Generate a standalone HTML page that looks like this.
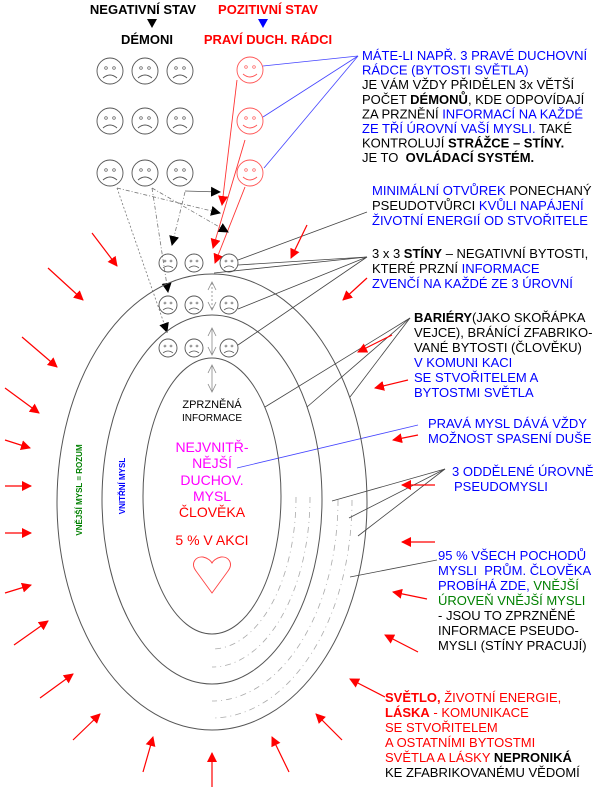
<!DOCTYPE html>
<html><head><meta charset="utf-8"><style>
html,body{margin:0;padding:0;background:#fff;}
svg{display:block;font-family:"Liberation Sans",Arial,sans-serif;}
.t{font-size:13px;}
.b{font-weight:bold;}
.bl{fill:#0000ff;}
.r{fill:#ff0000;}
.g{fill:#008000;}
.k{fill:#000;}
</style></head><body>
<svg width="600" height="793" viewBox="0 0 600 793" xmlns="http://www.w3.org/2000/svg">
<defs>
<marker id="ra" markerWidth="10" markerHeight="10" refX="9" refY="5" orient="auto" markerUnits="userSpaceOnUse"><path d="M0,0 L10,5 L0,10 z" fill="#ff0000"/></marker>
<marker id="ka" markerWidth="10" markerHeight="10" refX="9" refY="5" orient="auto" markerUnits="userSpaceOnUse"><path d="M0,0 L10,5 L0,10 z" fill="#000"/></marker>
<g id="sad"><circle r="13" fill="none" stroke="#555" stroke-width="0.9"/><circle cx="-4" cy="-3" r="1.3" fill="none" stroke="#555" stroke-width="0.7"/><circle cx="4" cy="-3" r="1.3" fill="none" stroke="#555" stroke-width="0.7"/><path d="M-7,7 Q0,1 7,7" fill="none" stroke="#555" stroke-width="0.9"/></g>
<g id="sads"><circle r="9" fill="none" stroke="#555" stroke-width="0.9"/><circle cx="-3" cy="-2" r="1" fill="none" stroke="#555" stroke-width="0.6"/><circle cx="3" cy="-2" r="1" fill="none" stroke="#555" stroke-width="0.6"/><path d="M-5,5 Q0,1 5,5" fill="none" stroke="#555" stroke-width="0.8"/></g>
<g id="happy"><circle r="13" fill="none" stroke="#ff5555" stroke-width="0.9"/><circle cx="-4" cy="-3" r="1.3" fill="none" stroke="#ff5555" stroke-width="0.7"/><circle cx="4" cy="-3" r="1.3" fill="none" stroke="#ff5555" stroke-width="0.7"/><path d="M-7,4 Q0,10 7,4" fill="none" stroke="#ff5555" stroke-width="0.9"/></g>
</defs>

<text x="143" y="14" text-anchor="middle" class="t b k">NEGATIVNÍ STAV</text>
<text x="268" y="14" text-anchor="middle" class="t b r">POZITIVNÍ STAV</text>
<path d="M147,19 L157,19 L152,28 z" fill="#000"/>
<path d="M258,19 L268,19 L263,28 z" fill="#0000ff"/>
<text x="147" y="44" text-anchor="middle" class="t b k">DÉMONI</text>
<text x="268" y="44" text-anchor="middle" class="t b r">PRAVÍ DUCH. RÁDCI</text>

<use href="#sad" x="110" y="71"/><use href="#sad" x="145" y="71"/><use href="#sad" x="180" y="71"/>
<use href="#sad" x="110" y="121"/><use href="#sad" x="145" y="121"/><use href="#sad" x="180" y="121"/>
<use href="#sad" x="110" y="173"/><use href="#sad" x="145" y="173"/><use href="#sad" x="180" y="173"/>
<use href="#happy" x="250" y="70"/><use href="#happy" x="250" y="121"/><use href="#happy" x="250" y="173"/>

<g stroke="#4444ff" stroke-width="0.8" fill="none">
<line x1="358" y1="56" x2="263" y2="66"/>
<line x1="358" y1="56" x2="263" y2="117"/>
<line x1="358" y1="56" x2="264" y2="168"/>
<line x1="418" y1="425" x2="237" y2="468"/>
</g>

<g stroke="#ff3333" stroke-width="0.9" fill="none">
<line x1="237" y1="80" x2="222" y2="205" marker-end="url(#ra)"/>
<line x1="245" y1="140" x2="213" y2="248" marker-end="url(#ra)"/>
<line x1="245" y1="187" x2="215" y2="263" marker-end="url(#ra)"/>
</g>

<g stroke="#777" stroke-width="0.8" fill="none" stroke-dasharray="4,2,1,2">
<line x1="185" y1="191" x2="220" y2="192" marker-end="url(#ka)" stroke-dasharray="none" stroke="#555"/>
<line x1="117" y1="188" x2="220" y2="213" marker-end="url(#ka)"/>
<line x1="152" y1="188" x2="228" y2="232" marker-end="url(#ka)"/>
<line x1="185" y1="192" x2="172" y2="245" marker-end="url(#ka)"/>
<line x1="152" y1="188" x2="168" y2="292" marker-end="url(#ka)"/>
<line x1="117" y1="188" x2="167" y2="332" marker-end="url(#ka)" stroke-dasharray="2,2"/>
</g>

<g fill="none" stroke="#555" stroke-width="1">
<ellipse cx="212" cy="502" rx="155" ry="228"/>
<ellipse cx="212" cy="499.5" rx="110" ry="184.5"/>
<ellipse cx="212" cy="496" rx="69" ry="138"/>
</g>
<g fill="none" stroke="#aaa" stroke-width="0.8" stroke-dasharray="6,4,1,4">
<path d="M296,497 A84,152 0 0 1 212,649"/>
<path d="M310,497 A98,170 0 0 1 212,667"/>
<path d="M338,500 A126,201 0 0 1 212,701"/>
<path d="M352,500 A140,218 0 0 1 212,718"/>
</g>

<use href="#sads" x="168" y="263"/><use href="#sads" x="194" y="263"/><use href="#sads" x="229" y="263"/>
<use href="#sads" x="168" y="305"/><use href="#sads" x="194" y="305"/><use href="#sads" x="229" y="305"/>
<use href="#sads" x="168" y="348"/><use href="#sads" x="194" y="348"/><use href="#sads" x="229" y="348"/>

<g stroke="#888" stroke-width="0.8" fill="none">
<line x1="212" y1="283" x2="212" y2="309" stroke-dasharray="2,2"/>
<path d="M208,290 L212,282 L216,290 M208,302 L212,310 L216,302"/>
<line x1="212" y1="328" x2="212" y2="355"/>
<path d="M208,336 L212,328 L216,336 M208,347 L212,355 L216,347"/>
<line x1="212" y1="365" x2="212" y2="392"/>
<path d="M208,373 L212,365 L216,373 M208,384 L212,392 L216,384"/>
</g>

<g stroke="#444" stroke-width="0.8" fill="none">
<line x1="367" y1="212" x2="238" y2="260"/>
<line x1="367" y1="257" x2="238" y2="265"/>
<line x1="367" y1="257" x2="214" y2="273"/>
<line x1="367" y1="257" x2="238" y2="309"/>
<line x1="367" y1="257" x2="238" y2="345"/>
<line x1="410" y1="318" x2="265" y2="407"/>
<line x1="410" y1="318" x2="307" y2="407"/>
<line x1="410" y1="318" x2="350" y2="397"/>
<line x1="445" y1="469" x2="332" y2="501"/>
<line x1="445" y1="469" x2="349" y2="518"/>
<line x1="445" y1="469" x2="358" y2="536"/>
<line x1="437" y1="560" x2="350" y2="577"/>
</g>

<g stroke="#ff0000" stroke-width="1.2" fill="none" marker-end="url(#ra)">
<line x1="92" y1="233" x2="117" y2="266"/>
<line x1="48" y1="268" x2="83" y2="300"/>
<line x1="22" y1="337" x2="57" y2="367"/>
<line x1="5" y1="388" x2="39" y2="413"/>
<line x1="5" y1="440" x2="30" y2="448"/>
<line x1="5" y1="486" x2="31" y2="486"/>
<line x1="5" y1="533" x2="31" y2="533"/>
<line x1="5" y1="593" x2="31" y2="585"/>
<line x1="14" y1="645" x2="48" y2="621"/>
<line x1="40" y1="698" x2="73" y2="674"/>
<line x1="73" y1="740" x2="100" y2="714"/>
<line x1="143" y1="772" x2="153" y2="737"/>
<line x1="212" y1="787" x2="212" y2="753"/>
<line x1="289" y1="772" x2="272" y2="737"/>
<line x1="342" y1="740" x2="316" y2="714"/>
<line x1="385" y1="697" x2="350" y2="679"/>
<line x1="418" y1="652" x2="385" y2="635"/>
<line x1="427" y1="599" x2="393" y2="592"/>
<line x1="435" y1="542" x2="402" y2="542"/>
<line x1="435" y1="485" x2="402" y2="485"/>
<line x1="418" y1="435" x2="393" y2="440"/>
<line x1="408" y1="380" x2="375" y2="388"/>
<line x1="392" y1="335" x2="358" y2="352"/>
<line x1="367" y1="278" x2="343" y2="300"/>
<line x1="307" y1="225" x2="291" y2="258"/>
</g>

<text x="212" y="408" text-anchor="middle" font-size="11" class="k">ZPRZNĚNÁ</text>
<text x="212" y="421" text-anchor="middle" font-size="10" class="k">INFORMACE</text>
<g font-size="14" text-anchor="middle">
<text x="212" y="452" fill="#ff00ff">NEJVNITŘ-</text>
<text x="212" y="468" fill="#ff00ff">NĚJŠÍ</text>
<text x="212" y="485" fill="#ff00ff">DUCHOV.</text>
<text x="212" y="501" fill="#ff00ff">MYSL</text>
<text x="212" y="517" class="r">ČLOVĚKA</text>
<text x="212" y="545" class="r">5 % V AKCI</text>
</g>
<path d="M212,593 L196,571 C190,563 196,556 203,557 C208,558 211,561 212,563 C213,561 216,558 221,557 C228,556 234,563 228,571 Z" fill="none" stroke="#ff4444" stroke-width="0.9"/>
<text transform="translate(82,490) rotate(-90)" text-anchor="middle" font-size="8" font-weight="bold" class="g">VNĚJŠÍ MYSL = ROZUM</text>
<text transform="translate(125,486) rotate(-90)" text-anchor="middle" font-size="8" font-weight="bold" class="bl">VNITŘNÍ  MYSL</text>

<g class="t">
<text x="362" y="60" class="bl">MÁTE-LI NAPŘ. 3 PRAVÉ DUCHOVNÍ</text>
<text x="362" y="74.6" class="bl">RÁDCE (BYTOSTI SVĚTLA)</text>
<text x="362" y="89.2" class="k">JE VÁM VŽDY PŘIDĚLEN 3x VĚTŠÍ</text>
<text x="362" y="103.8" class="k">POČET <tspan class="b">DÉMONŮ</tspan>, KDE ODPOVÍDAJÍ</text>
<text x="362" y="118.4" class="k">ZA PRZNĚNÍ <tspan class="bl">INFORMACÍ NA KAŽDÉ</tspan></text>
<text x="362" y="133" class="bl">ZE TŘÍ ÚROVNÍ VAŠÍ MYSLI. <tspan class="k">TAKÉ</tspan></text>
<text x="362" y="147.6" class="k">KONTROLUJÍ <tspan class="b">STRÁŽCE – STÍNY.</tspan></text>
<text x="362" y="162.2" class="k" xml:space="preserve">JE TO  <tspan class="b">OVLÁDACÍ SYSTÉM.</tspan></text>

<text x="372" y="195" class="bl">MINIMÁLNÍ OTVŮREK <tspan class="k">PONECHANÝ</tspan></text>
<text x="372" y="210" class="k">PSEUDOTVŮRCI <tspan class="bl">KVŮLI NAPÁJENÍ</tspan></text>
<text x="372" y="225" class="bl">ŽIVOTNÍ ENERGIÍ OD STVOŘITELE</text>

<text x="372" y="258" class="k">3 x 3 <tspan class="b">STÍNY</tspan> – NEGATIVNÍ BYTOSTI,</text>
<text x="372" y="273" class="k">KTERÉ PRZNÍ <tspan class="bl">INFORMACE</tspan></text>
<text x="372" y="288" class="bl">ZVENČÍ NA KAŽDÉ ZE 3 ÚROVNÍ</text>

<text x="414" y="322" class="k"><tspan class="b">BARIÉRY</tspan>(JAKO SKOŘÁPKA</text>
<text x="414" y="337" class="k">VEJCE), BRÁNÍCÍ ZFABRIKO-</text>
<text x="414" y="352" class="k">VANÉ BYTOSTI (ČLOVĚKU)</text>
<text x="414" y="367" class="bl">V KOMUNI KACI</text>
<text x="414" y="382" class="bl">SE STVOŘITELEM A</text>
<text x="414" y="397" class="bl">BYTOSTMI SVĚTLA</text>

<text x="428" y="428" class="bl">PRAVÁ MYSL DÁVÁ VŽDY</text>
<text x="428" y="443" class="bl">MOŽNOST SPASENÍ DUŠE</text>

<text x="452" y="476" class="bl">3 ODDĚLENÉ ÚROVNĚ</text>
<text x="454" y="491" class="bl">PSEUDOMYSLI</text>

<text x="438" y="560" class="bl">95 % VŠECH POCHODŮ</text>
<text x="438" y="575" class="bl" xml:space="preserve">MYSLI  PRŮM. ČLOVĚKA</text>
<text x="438" y="590" class="bl">PROBÍHÁ ZDE, <tspan class="g">VNĚJŠÍ</tspan></text>
<text x="438" y="605" class="g">ÚROVEŇ VNĚJŠÍ MYSLI</text>
<text x="438" y="620" class="k">- JSOU TO ZPRZNĚNÉ</text>
<text x="438" y="635" class="k">INFORMACE PSEUDO-</text>
<text x="438" y="650" class="k">MYSLI (STÍNY PRACUJÍ)</text>

<text x="385" y="702" class="r"><tspan class="b">SVĚTLO,</tspan> ŽIVOTNÍ ENERGIE,</text>
<text x="385" y="717" class="r"><tspan class="b">LÁSKA</tspan> - KOMUNIKACE</text>
<text x="385" y="732" class="r">SE STVOŘITELEM</text>
<text x="385" y="747" class="r">A OSTATNÍMI BYTOSTMI</text>
<text x="385" y="762" class="r">SVĚTLA A LÁSKY <tspan class="b k">NEPRONIKÁ</tspan></text>
<text x="385" y="777" class="k">KE ZFABRIKOVANÉMU VĚDOMÍ</text>
</g>
</svg>
</body></html>
